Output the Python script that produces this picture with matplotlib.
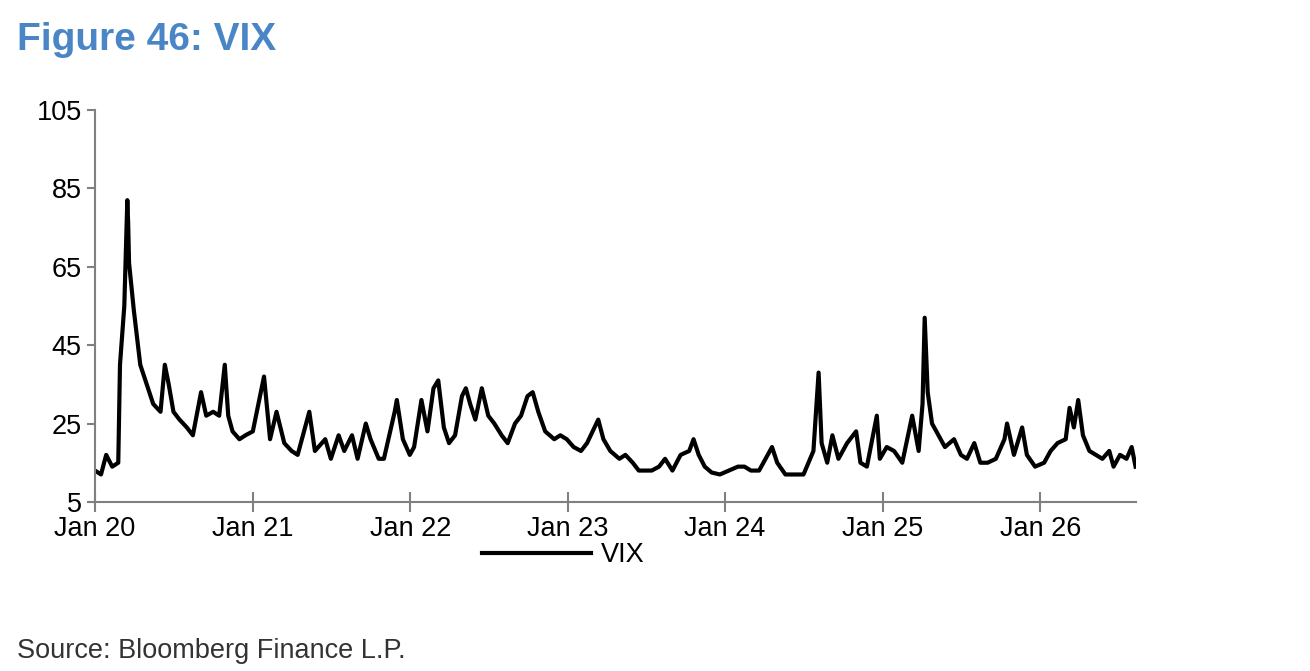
import matplotlib
matplotlib.use("Agg")
import matplotlib.pyplot as plt
import pandas as pd

plt.rcParams['font.family'] = ['Liberation Sans', 'DejaVu Sans']

dates = [
    "2020-01-01", "2020-01-15", "2020-01-27", "2020-02-10", "2020-02-24", "2020-02-28", "2020-03-09", "2020-03-16",
    "2020-03-18", "2020-03-20", "2020-03-31", "2020-04-15", "2020-04-30", "2020-05-15", "2020-06-01", "2020-06-11",
    "2020-06-20", "2020-07-01", "2020-07-15", "2020-08-01", "2020-08-15", "2020-09-03", "2020-09-15", "2020-10-01",
    "2020-10-15", "2020-10-28", "2020-11-05", "2020-11-15", "2020-12-01", "2020-12-15",
    "2021-01-01", "2021-01-27", "2021-02-10", "2021-02-25", "2021-03-15", "2021-04-01", "2021-04-15", "2021-05-12",
    "2021-05-25", "2021-06-18", "2021-07-01", "2021-07-19", "2021-08-01", "2021-08-19", "2021-09-01", "2021-09-20",
    "2021-10-01", "2021-10-20", "2021-11-01", "2021-11-26", "2021-12-01", "2021-12-15", "2021-12-31",
    "2022-01-10", "2022-01-27", "2022-02-10", "2022-02-24", "2022-03-07", "2022-03-20", "2022-04-01", "2022-04-15",
    "2022-05-01", "2022-05-10", "2022-05-20", "2022-06-01", "2022-06-16", "2022-07-01", "2022-07-15", "2022-08-01",
    "2022-08-15", "2022-09-01", "2022-09-15", "2022-09-30", "2022-10-12", "2022-10-25", "2022-11-10", "2022-12-01",
    "2022-12-15", "2022-12-30",
    "2023-01-15", "2023-02-01", "2023-02-15", "2023-03-13", "2023-03-25", "2023-04-10", "2023-05-01", "2023-05-15",
    "2023-06-01", "2023-06-15", "2023-07-01", "2023-07-15", "2023-08-01", "2023-08-15", "2023-09-01", "2023-09-20",
    "2023-10-10", "2023-10-20", "2023-11-01", "2023-11-15", "2023-12-01", "2023-12-20",
    "2024-01-10", "2024-01-31", "2024-02-15", "2024-03-01", "2024-03-20", "2024-04-19", "2024-05-01", "2024-05-20",
    "2024-06-15", "2024-07-01", "2024-07-24", "2024-08-05", "2024-08-12", "2024-08-25", "2024-09-06", "2024-09-20",
    "2024-10-10", "2024-10-31", "2024-11-10", "2024-11-25", "2024-12-18", "2024-12-25",
    "2025-01-10", "2025-01-27", "2025-02-15", "2025-03-10", "2025-03-25", "2025-04-03", "2025-04-08", "2025-04-15",
    "2025-04-25", "2025-05-10", "2025-05-25", "2025-06-15", "2025-07-01", "2025-07-15", "2025-08-01", "2025-08-15",
    "2025-09-01", "2025-09-20", "2025-10-10", "2025-10-16", "2025-11-01", "2025-11-20", "2025-12-01", "2025-12-20",
    "2026-01-10", "2026-01-25", "2026-02-10", "2026-03-01", "2026-03-10", "2026-03-20", "2026-03-30", "2026-04-10",
    "2026-04-25", "2026-05-10", "2026-05-25", "2026-06-10", "2026-06-20", "2026-07-05", "2026-07-20", "2026-08-01",
    "2026-08-10",
]
vix = [
    13, 12, 17, 14, 15, 40, 55, 82, 76, 66, 54, 40, 35, 30, 28, 40, 35, 28, 26, 24, 22, 33, 27, 28, 27, 40, 27, 23, 21, 22,
    23, 37, 21, 28, 20, 18, 17, 28, 18, 21, 16, 22, 18, 22, 16, 25, 21, 16, 16, 28, 31, 21, 17,
    19, 31, 23, 34, 36, 24, 20, 22, 32, 34, 30, 26, 34, 27, 25, 22, 20, 25, 27, 32, 33, 28, 23, 21, 22, 21,
    19, 18, 20, 26, 21, 18, 16, 17, 15, 13, 13, 13, 14, 16, 13, 17, 18, 21, 17, 14, 12.5, 12,
    13, 14, 14, 13, 13, 19, 15, 12, 12, 12, 18, 38, 20, 15, 22, 16, 20, 23, 15, 14, 27, 16,
    19, 18, 15, 27, 18, 30, 52, 33, 25, 22, 19, 21, 17, 16, 20, 15, 15, 16, 21, 25, 17, 24, 17, 14,
    15, 18, 20, 21, 29, 24, 31, 22, 18, 17, 16, 18, 14, 17, 16, 19, 14,
]
xtick_labels = ["Jan 20", "Jan 21", "Jan 22", "Jan 23", "Jan 24", "Jan 25", "Jan 26"]

x = pd.to_datetime(dates)
fig = plt.figure(figsize=(13.1, 6.71), dpi=100)
ax = fig.add_axes([0.0725, 0.252, 0.795, 0.584])
ax.plot(x, vix, color="black", lw=3, label="VIX")

ax.set_ylim(5, 105)
ax.set_yticks(range(5, 106, 20))
ax.set_xlim(pd.Timestamp("2020-01-01"), pd.Timestamp("2026-08-12"))
ax.set_xticks(pd.to_datetime([f"20{y}-01-01" for y in range(20, 27)]))
ax.set_xticklabels(xtick_labels)
for s in ["top", "right"]:
    ax.spines[s].set_visible(False)
for s in ["left", "bottom"]:
    ax.spines[s].set_color("#808080")
    ax.spines[s].set_linewidth(1.5)
ax.tick_params(axis="both", labelsize=19.5, color="#808080", width=1.5)
ax.tick_params(axis="x", direction="inout", length=14, pad=3)
ax.tick_params(axis="y", direction="out", length=6)

ax.legend(loc="upper center", bbox_to_anchor=(0.45, -0.075), frameon=False, fontsize=19.5,
          handlelength=4, handletextpad=0.4, borderaxespad=0)

fig.text(0.013, 0.925, "Figure 46: VIX", fontsize=28, fontweight="bold", color="#4A86C5")
fig.text(0.013, 0.02, "Source: Bloomberg Finance L.P.", fontsize=19.5, color="#333333")

fig.savefig("out.png", dpi=100)
